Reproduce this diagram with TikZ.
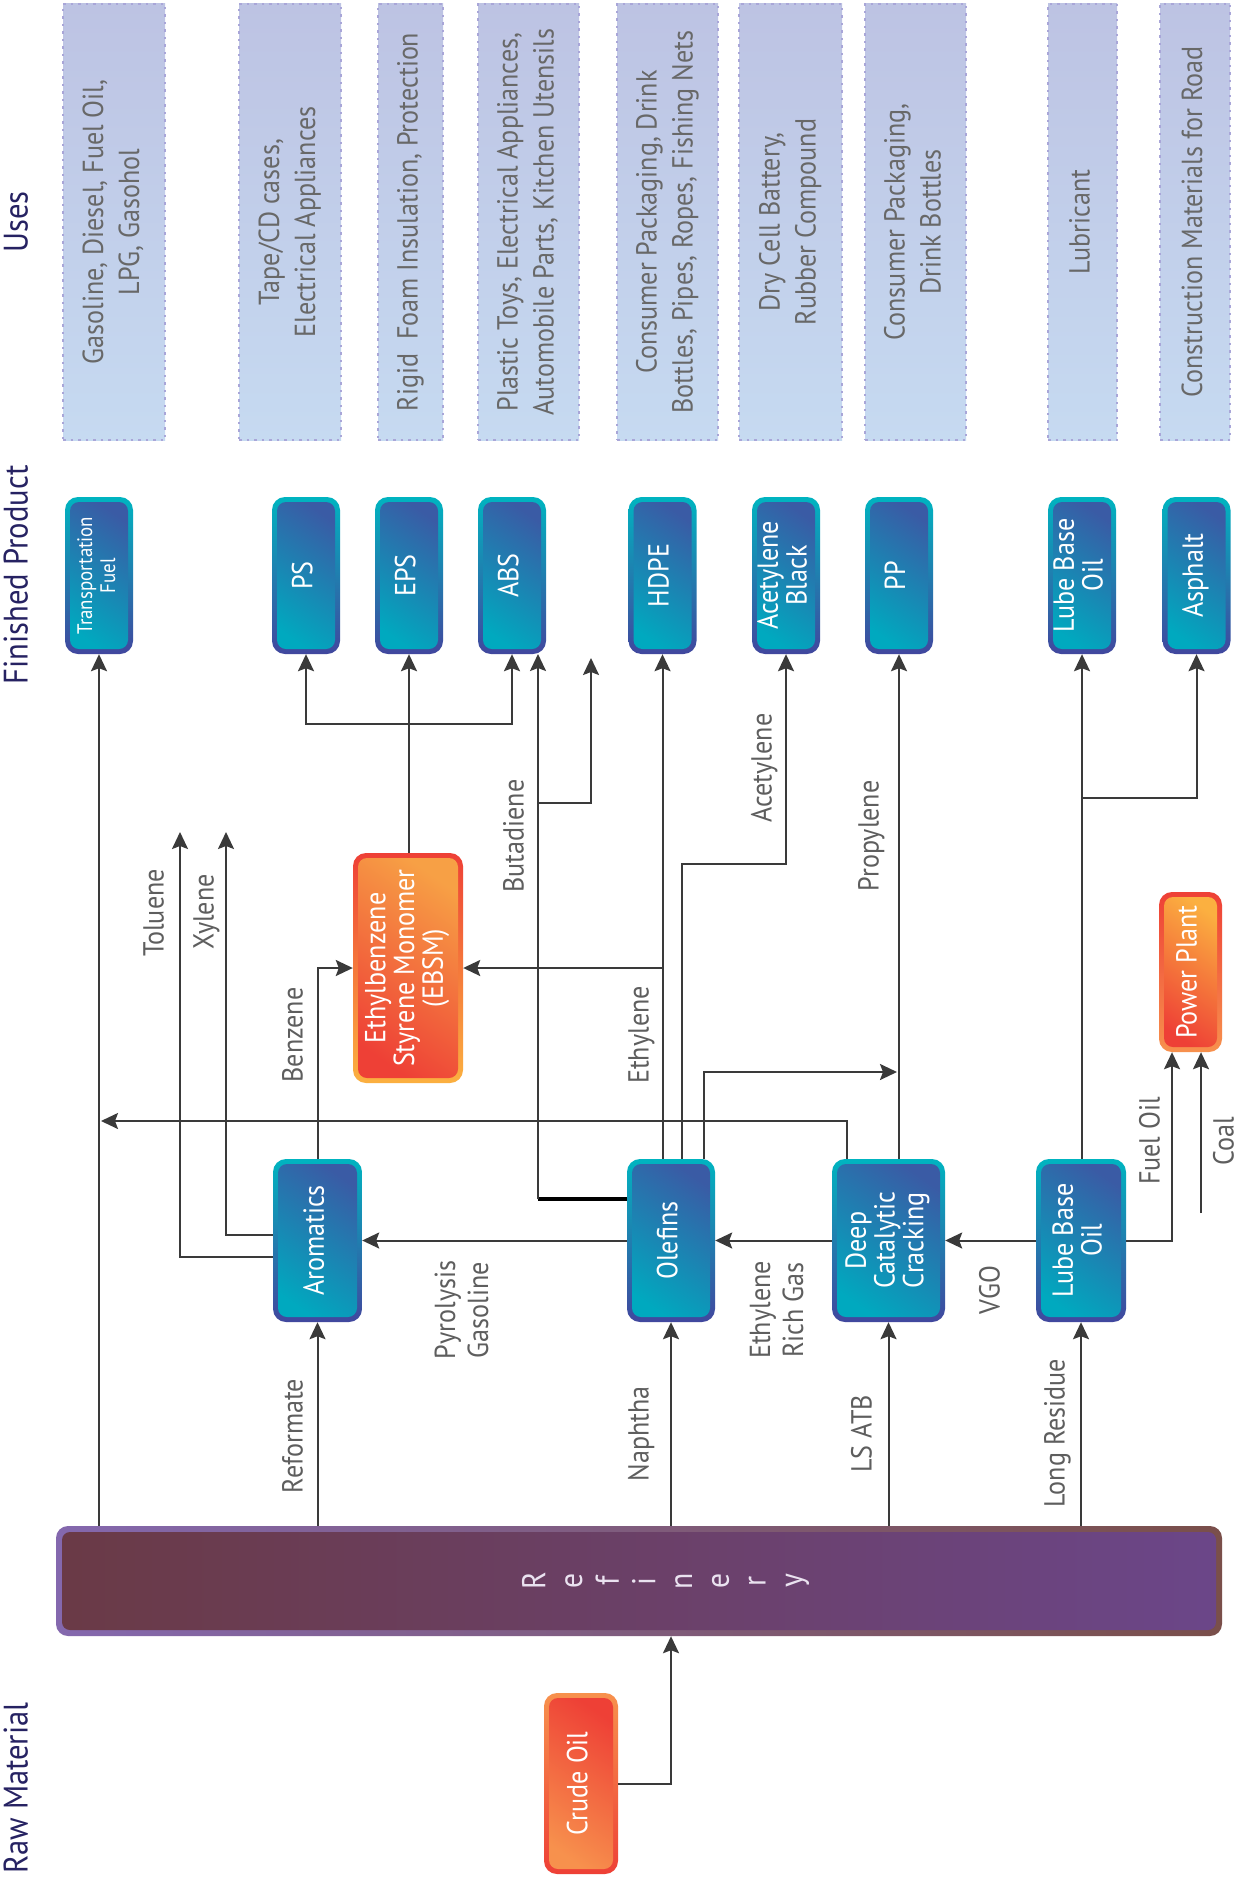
\documentclass[tikz,border=0pt]{standalone}
\usepackage{fontspec}
\setmainfont{PT Sans}[FakeStretch=0.9]
\usetikzlibrary{arrows.meta}
\definecolor{linec}{HTML}{3A3A3A}
\definecolor{labc}{HTML}{5E5E5E}
\definecolor{navy}{HTML}{262262}
\definecolor{usetop}{HTML}{BDC3E3}
\definecolor{usebot}{HTML}{C6DAF1}
\definecolor{usebd}{HTML}{A9A6D8}
\definecolor{usetx}{HTML}{686868}
\definecolor{bRingT}{HTML}{00B4C0}
\definecolor{bRingB}{HTML}{41479E}
\definecolor{bInT}{HTML}{3A5BA5}
\definecolor{bInB}{HTML}{00A9BF}
\definecolor{oRed}{HTML}{EE4036}
\definecolor{oYel}{HTML}{FBB040}
\definecolor{oOra}{HTML}{F7A045}
\definecolor{oOra2}{HTML}{F7914D}
\definecolor{rRingL}{HTML}{8468AE}
\definecolor{rRingR}{HTML}{7A4F4A}
\definecolor{rInL}{HTML}{6A3A46}
\definecolor{rInR}{HTML}{6B4689}
\definecolor{refTx}{HTML}{EAE2F0}
\newcommand{\rt}[1]{\rotatebox{90}{\begin{tabular}{@{}c@{}}#1\end{tabular}}}
\newcommand{\bxf}{\fontsize{29}{27}\selectfont}
\newcommand{\smf}{\fontsize{21}{23}\selectfont}
\newcommand{\lbf}{\fontsize{29}{33}\selectfont}
\newcommand{\usf}{\fontsize{29}{36}\selectfont}
\newcommand{\hdf}{\fontsize{34}{38}\selectfont}
\tikzset{
  conn/.style={draw=linec, line width=2pt},
  arr/.style={conn, -{Stealth[length=17pt,width=16pt,inset=3pt]}},
  usebox/.style={draw=usebd, line width=1.6pt, dash pattern=on 2.5pt off 5pt,
    top color=usetop, bottom color=usebot, minimum height=436pt, inner sep=0pt,
    text=usetx, font=\usf},
  gbox/.style n args={4}{rounded corners=13pt, top color=#1, bottom color=#2,
    inner sep=0pt, text=white, font=\bxf,
    path picture={\shade[rounded corners=9pt, top color=#3, bottom color=#4, shading angle=-35]
      ([shift={(5pt,-5pt)}]path picture bounding box.north west) rectangle
      ([shift={(-5pt,5pt)}]path picture bounding box.south east);}},
  bluebox/.style={gbox={bRingT}{bRingB}{bInT}{bInB}},
  prod/.style={bluebox, minimum width=68pt, minimum height=157pt},
  proc/.style={bluebox, minimum height=163pt},
  lab/.style={text=labc, font=\lbf, inner sep=0pt},
  hdr/.style={text=navy, font=\hdf, inner sep=0pt},
}
\begin{document}
\begin{tikzpicture}[x=1pt,y=-1pt]
\useasboundingbox[fill=white] (0,0) rectangle (1249,1881);

% headers
\node[hdr] (hUses) at (20,222) {\rt{Uses}};
\node[hdr] (hProd) at (20,575) {\rt{Finished Product}};
\node[hdr] (hRaw) at (20,1788) {\rt{Raw Material}};

% uses
\node[usebox, minimum width=102pt] (u1) at (114,222) {\rt{Gasoline, Diesel, Fuel Oil,\\LPG, Gasohol}};
\node[usebox, minimum width=102pt] (u2) at (290,222) {\rt{Tape/CD cases,\\Electrical Appliances}};
\node[usebox, minimum width=65pt] (u3) at (410.5,222) {\rt{Rigid\ \ Foam Insulation, Protection}};
\node[usebox, minimum width=101pt] (u4) at (528.5,222) {\rt{Plastic Toys, Electrical Appliances,\\Automobile Parts, Kitchen Utensils}};
\node[usebox, minimum width=101pt] (u5) at (667.5,222) {\rt{Consumer Packaging, Drink\\Bottles, Pipes, Ropes, Fishing Nets}};
\node[usebox, minimum width=103pt] (u6) at (790.5,222) {\rt{Dry Cell Battery,\\Rubber Compound}};
\node[usebox, minimum width=101pt] (u7) at (915.5,222) {\rt{Consumer Packaging,\\Drink Bottles}};
\node[usebox, minimum width=69pt] (u8) at (1082.5,222) {\rt{Lubricant}};
\node[usebox, minimum width=70pt] (u9) at (1195,222) {\rt{Construction Materials for Road}};

% finished products
\node[prod, font=\smf] (trans) at (99,575.5) {\rt{Transportation\\Fuel}};
\node[prod] (ps) at (306,575.5) {\rt{PS}};
\node[prod] (eps) at (409,575.5) {\rt{EPS}};
\node[prod] (abs) at (512,575.5) {\rt{ABS}};
\node[prod] (hdpe) at (662.5,575.5) {\rt{HDPE}};
\node[prod] (acb) at (786,575.5) {\rt{Acetylene\\Black}};
\node[prod] (pp) at (899,575.5) {\rt{PP}};
\node[prod] (lubeo) at (1082,575.5) {\rt{Lube Base\\Oil}};
\node[prod] (asph) at (1196.5,575.5) {\rt{Asphalt}};

% processes
\node[proc, minimum width=89pt] (aro) at (317.5,1240.5) {\rt{Aromatics}};
\node[proc, minimum width=88pt] (olef) at (671,1240.5) {\rt{Olefins}};
\node[proc, minimum width=113pt] (dcc) at (888.5,1240.5) {\rt{Deep\\Catalytic\\Cracking}};
\node[proc, minimum width=90pt] (lubep) at (1081,1240.5) {\rt{Lube Base\\Oil}};
\node[gbox={oRed}{oYel}{oOra}{oRed}, minimum width=110pt, minimum height=230pt] (ebsm) at (408,968) {\rt{Ethylbenzene\\Styrene Monomer\\(EBSM)}};
\node[gbox={oRed}{oOra2}{oYel}{oRed}, minimum width=63pt, minimum height=160pt] (pwr) at (1190.5,972) {\rt{Power Plant}};
\node[gbox={oOra2}{oRed}{oRed}{oOra2}, minimum width=74pt, minimum height=181pt] (crude) at (581,1783.5) {\rt{Crude Oil}};

% refinery
\node[rounded corners=12pt, left color=rRingL, right color=rRingR, inner sep=0pt,
  minimum width=1166pt, minimum height=110pt, text=refTx,
  path picture={\shade[rounded corners=8pt, left color=rInL, right color=rInR]
      ([shift={(6pt,-6pt)}]path picture bounding box.north west) rectangle
      ([shift={(-6pt,6pt)}]path picture bounding box.south east);}]
  (ref) at (639,1581) {\hspace*{55pt}\rotatebox{90}{\fontsize{33}{36.7}\selectfont\begin{tabular}{@{}c@{}}R\\e\\f\\i\\n\\e\\r\\y\end{tabular}}};

% helper coordinates
\coordinate (yPS) at (0,724);
\coordinate (yBu) at (0,803);
\coordinate (yAc) at (0,864);
\coordinate (yAs) at (0,798);
\coordinate (trj) at (101,1121);
\coordinate (tolE) at (180,832);
\coordinate (xylE) at (226,832);
\coordinate (butE) at (591,658);
\coordinate (ppj) at (897,1072);
\coordinate (coalS) at (1201,1213);
\coordinate (bj) at (538,1199);
\coordinate (absR) at (538,654);

% connectors
\draw[arr] (trans.south |- ref.north) -- (trans.south);
\draw[arr] ([xshift=-41.5pt]dcc.north) |- (trj);
\draw[arr] (aro.south |- ref.north) -- (aro.south);
\draw[arr] (olef.south |- ref.north) -- (olef.south);
\draw[arr] (dcc.south |- ref.north) -- (dcc.south);
\draw[arr] (lubep.south |- ref.north) -- (lubep.south);
\draw[arr] (crude.east) -| (olef.south |- ref.south);
\draw[arr] (lubep.west) -- (dcc.east);
\draw[arr] (dcc.west) -- (olef.east);
\draw[arr] (olef.west) -- (aro.east);
\draw[arr] ([yshift=-16.5pt]aro.west) -| (tolE);
\draw[arr] ([yshift=5.5pt]aro.west) -| (xylE);
\draw[arr] (aro.north) |- (ebsm.west);
\draw[arr] (olef.north -| hdpe.south) -- (hdpe.south);
\draw[arr] (hdpe.south |- ebsm.east) -- (ebsm.east);
\draw[arr] ([xshift=11pt]olef.north) |- (acb.south |- yAc) -- (acb.south);
\draw[arr] ([xshift=33pt]olef.north) |- (ppj);
\draw[arr] (pp.south |- dcc.north) -- (pp.south);
\draw[line width=3.5pt, black] ([yshift=41.5pt]olef.west) -- (bj);
\draw[arr] (bj) -- (absR);
\draw[arr] (bj |- yBu) -| (butE);
\draw[arr] (eps.south |- ebsm.north) -- (eps.south);
\draw[arr] (eps.south |- yPS) -| (ps.south);
\draw[arr] (eps.south |- yPS) -| (abs.south);
\draw[arr] (lubeo.south |- lubep.north) -- (lubeo.south);
\draw[arr] (lubeo.south |- yAs) -| (asph.south);
\draw[arr] (lubep.east) -| ([xshift=-18.5pt]pwr.south);
\draw[arr] (coalS) -- (coalS |- pwr.south);

% labels
\node[lab] (lRef) at (296,1436) {\rt{Reformate}};
\node[lab] (lPyr) at (465,1310) {\rt{Pyrolysis\\Gasoline}};
\node[lab] (lNap) at (642,1434) {\rt{Naphtha}};
\node[lab] (lERG) at (780,1310) {\rt{Ethylene\\Rich Gas}};
\node[lab] (lLS) at (865,1434) {\rt{LS ATB}};
\node[lab] (lVGO) at (993,1290) {\rt{VGO}};
\node[lab] (lLR) at (1058,1433) {\rt{Long Residue}};
\node[lab] (lFO) at (1153,1141) {\rt{Fuel Oil}};
\node[lab] (lCoal) at (1227,1141) {\rt{Coal}};
\node[lab] (lTol) at (157,913) {\rt{Toluene}};
\node[lab] (lXyl) at (207,912) {\rt{Xylene}};
\node[lab] (lBen) at (296,1035) {\rt{Benzene}};
\node[lab] (lBut) at (517,836) {\rt{Butadiene}};
\node[lab] (lEth) at (642,1035) {\rt{Ethylene}};
\node[lab] (lAce) at (765,768) {\rt{Acetylene}};
\node[lab] (lPro) at (872,836) {\rt{Propylene}};
\end{tikzpicture}
\end{document}
